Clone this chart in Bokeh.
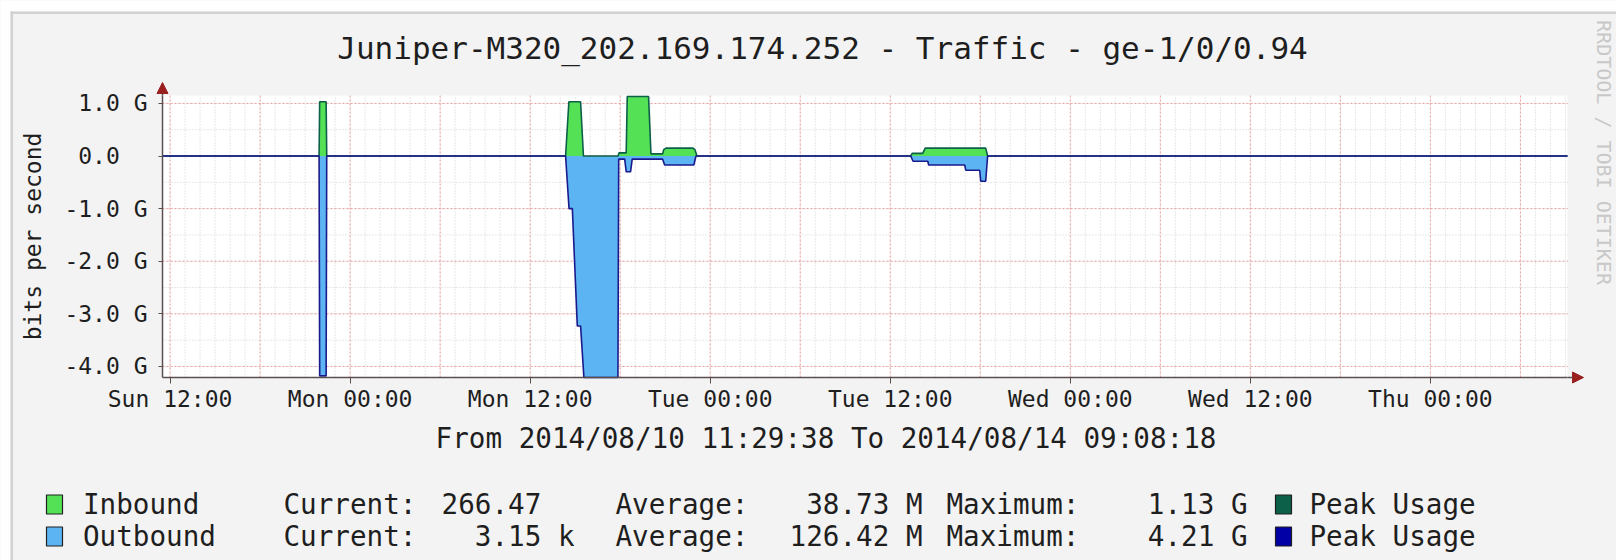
import numpy as np
from bokeh.plotting import figure
from bokeh.models import Range1d, FixedTicker, Arrow, NormalHead
from bokeh.core.properties import value
from bokeh.embed import file_html
from bokeh.resources import INLINE

MONO = "DejaVu Sans Mono"
BG = "#F3F3F3"
AXC = "#5a4f4f"
ARROW_C = "#9a1f1f"
IN_C = "#55E155"
OUT_C = "#5CB4F2"
IN_PEAK = "#0C5F48"
OUT_PEAK = "#1A1A8C"
TXT = "#1e1e1e"
NB = "\u00a0"

TITLE = "Juniper-M320_202.169.174.252 - Traffic - ge-1/0/0.94"
Y_LABEL = "bits per second"
FROM_TO = "From 2014/08/10 11:29:38 To 2014/08/14 09:08:18"
WATERMARK = "RRDTOOL / TOBI OETIKER"

# time axis: hours since Sun 2014-08-10 00:00
start_h = 11 + 29 / 60 + 38 / 3600
end_h = 96 + 9 + 8 / 60 + 18 / 3600

x_ticks = [12, 24, 36, 48, 60, 72, 84, 96]
x_labels = ["Sun 12:00", "Mon 00:00", "Mon 12:00", "Tue 00:00",
            "Tue 12:00", "Wed 00:00", "Wed 12:00", "Thu 00:00"]
y_ticks = [-4, -3, -2, -1, 0, 1]
y_labels = ["-4.0 G", "-3.0 G", "-2.0 G", "-1.0 G", "0.0" + NB + NB, "1.0 G"]

# values in Gbit/s
in_t = [start_h, 21.93, 21.97, 22.40, 22.44, 38.36, 38.58, 39.36, 39.55,
        41.86, 41.92, 42.40, 42.47, 43.89, 44.05, 44.83, 44.90, 45.05,
        46.85, 46.98, 47.12, 61.36, 61.46, 62.16, 62.33, 66.36, 66.49, end_h]
in_v = [0, 0, 1.03, 1.03, 0, 0, 1.03, 1.03, 0,
        0, 0.06, 0.06, 1.13, 1.13, 0.04, 0.04, 0.12, 0.15,
        0.15, 0.12, 0, 0, 0.05, 0.05, 0.15, 0.15, 0, 0]

out_t = [start_h, 21.93, 21.97, 22.40, 22.44, 38.36, 38.59, 38.81, 39.14,
         39.36, 39.58, 41.85, 41.90, 42.30, 42.40, 42.69, 42.80, 44.83,
         44.96, 46.91, 47.05, 61.36, 61.52, 62.50, 62.56, 64.96, 65.03,
         65.96, 66.03, 66.36, 66.49, end_h]
out_v = [0, 0, -4.18, -4.18, 0, 0, -1.0, -1.0, -3.23,
         -3.23, -4.21, -4.21, -0.06, -0.06, -0.30, -0.30, -0.06, -0.06,
         -0.17, -0.17, 0, 0, -0.10, -0.10, -0.17, -0.17, -0.27,
         -0.27, -0.48, -0.48, 0, 0]

series = ["Inbound", "Outbound"]
cur_vals = ["266.47", "3.15"]
cur_units = ["", "k"]
avg_vals = ["38.73", "126.42"]
avg_units = ["M", "M"]
max_vals = ["1.13", "4.21"]
max_units = ["G", "G"]
fill_colors = [IN_C, OUT_C]
peak_colors = [IN_PEAK, "#0000A6"]

Y0, Y1 = -4.21, 1.15
W, H = 1616, 560
FL, FR, FT, FB = 162, 1567, 95, 377   # plot-area edges in canvas pixels
KX = (end_h - start_h) / (FR - FL)    # hours per pixel
KY = (Y1 - Y0) / (FB - FT)            # G per pixel


def dx(px):
    return start_h + (px - FL) * KX


def dy(py):
    return Y1 - (py - FT) * KY


p = figure(width=W, height=H, x_range=Range1d(dx(0), dx(W)),
           y_range=Range1d(dy(H), dy(0)), output_backend="svg",
           toolbar_location=None, min_border=0, min_border_left=0,
           min_border_right=0, min_border_top=0, min_border_bottom=0,
           background_fill_color=BG, border_fill_color=BG, outline_line_color=None)
p.grid.visible = False

# image border (white page edge + light grey frame line)
p.quad(left=[dx(0), dx(0)], right=[dx(10), dx(W)], top=[dy(0), dy(0)],
       bottom=[dy(H), dy(11)], fill_color="white", line_color=None)
p.quad(left=[dx(10), dx(10)], right=[dx(12.5), dx(W)], top=[dy(11), dy(11)],
       bottom=[dy(H), dy(13.5)], fill_color="#D2D2D2", line_color=None)

# plot area
p.quad(left=[start_h], right=[end_h], top=[Y1], bottom=[Y0],
       fill_color="white", line_color=None)

# grid lines
vx_minor = np.arange(12, end_h, 1.0)
vx_major = np.arange(12, end_h, 6.0)
hy_minor = np.arange(-4.0, 1.01, 0.5)
hy_major = np.array(y_ticks, dtype=float)
p.segment(x0=vx_minor, x1=vx_minor, y0=Y0, y1=Y1, line_color="#D0D0D0",
          line_dash="1 2", line_width=1)
p.segment(x0=start_h, x1=end_h, y0=hy_minor, y1=hy_minor, line_color="#D0D0D0",
          line_dash="1 2", line_width=1)
p.segment(x0=vx_major, x1=vx_major, y0=Y0, y1=Y1, line_color="#F0A0A0",
          line_dash="2 2", line_width=1)
p.segment(x0=start_h, x1=end_h, y0=hy_major, y1=hy_major, line_color="#F0A0A0",
          line_dash="2 2", line_width=1)

# data
p.varea(x=in_t, y1=0, y2=in_v, fill_color=IN_C)
p.varea(x=out_t, y1=0, y2=out_v, fill_color=OUT_C)
p.line(in_t, in_v, line_color=IN_PEAK, line_width=1.6)
p.line(out_t, out_v, line_color=OUT_PEAK, line_width=1.6)

# axes, placed on the plot-area edges
xa = p.xaxis[0]
ya = p.yaxis[0]
xa.fixed_location = Y0
xa.bounds = (start_h, end_h)
ya.fixed_location = start_h
ya.bounds = (Y0, Y1)
xa.ticker = FixedTicker(ticks=x_ticks, minor_ticks=[])
xa.major_label_overrides = dict(zip(x_ticks, x_labels))
ya.ticker = FixedTicker(ticks=y_ticks, minor_ticks=[])
ya.major_label_overrides = dict(zip(y_ticks, y_labels))
for ax in (xa, ya):
    ax.axis_line_color = AXC
    ax.axis_line_width = 1.5
    ax.major_tick_line_color = AXC
    ax.minor_tick_line_color = None
    ax.major_tick_in = 0
    ax.major_label_text_font = MONO
    ax.major_label_text_font_size = "23px"
    ax.major_label_text_color = TXT
xa.major_tick_out = 6
xa.major_label_standoff = 2
ya.major_tick_out = 4
ya.major_label_standoff = 11
ya.axis_label = Y_LABEL
ya.axis_label_text_font = MONO
ya.axis_label_text_font_size = "23px"
ya.axis_label_text_font_style = "normal"
ya.axis_label_text_color = TXT
ya.axis_label_standoff = 15

# axis arrows
p.add_layout(Arrow(end=NormalHead(size=11, fill_color=ARROW_C, line_color=ARROW_C),
                   x_start=end_h, y_start=Y0, x_end=dx(FR + 16), y_end=Y0,
                   line_color=AXC, line_width=1.5))
p.add_layout(Arrow(end=NormalHead(size=11, fill_color=ARROW_C, line_color=ARROW_C),
                   x_start=start_h, y_start=Y1, x_end=start_h, y_end=dy(FT - 13),
                   line_color=AXC, line_width=1.5))


def txt(px, py, text, size="27.6px", align="left", color=TXT, angle=0.0):
    p.text(x=[dx(px)], y=[dy(py)], text=[text], text_font=value(MONO),
           text_font_size=size, text_align=align, text_baseline="middle",
           text_color=color, angle=angle)


# title, period line, watermark
txt(822, 47, TITLE, size="31px", align="center")
txt(825.5, 438, FROM_TO, align="center")
txt(1603, 152, WATERMARK, size="20px", align="center", color="#C8C8C8",
    angle=-np.pi / 2)

# legend rows
row_y = [504, 536]
p.quad(left=[dx(46)] * 2, right=[dx(62)] * 2,
       top=[dy(y - 9.5) for y in row_y], bottom=[dy(y + 9.5) for y in row_y],
       fill_color=fill_colors, line_color="#202020", line_width=1.2)
p.quad(left=[dx(1275)] * 2, right=[dx(1291)] * 2,
       top=[dy(y - 9.5) for y in row_y], bottom=[dy(y + 9.5) for y in row_y],
       fill_color=peak_colors, line_color="#202020", line_width=1.2)
for i, ry in enumerate(row_y):
    txt(82.5, ry, series[i])
    txt(283, ry, "Current:")
    txt(574, ry, cur_vals[i] + NB + (cur_units[i] if cur_units[i] else NB), align="right")
    txt(615, ry, "Average:")
    txt(922, ry, avg_vals[i] + NB + avg_units[i], align="right")
    txt(946, ry, "Maximum:")
    txt(1247, ry, max_vals[i] + NB + max_units[i], align="right")
    txt(1309, ry, "Peak" + NB + "Usage")

open("out.html", "w").write(file_html(p, INLINE))
